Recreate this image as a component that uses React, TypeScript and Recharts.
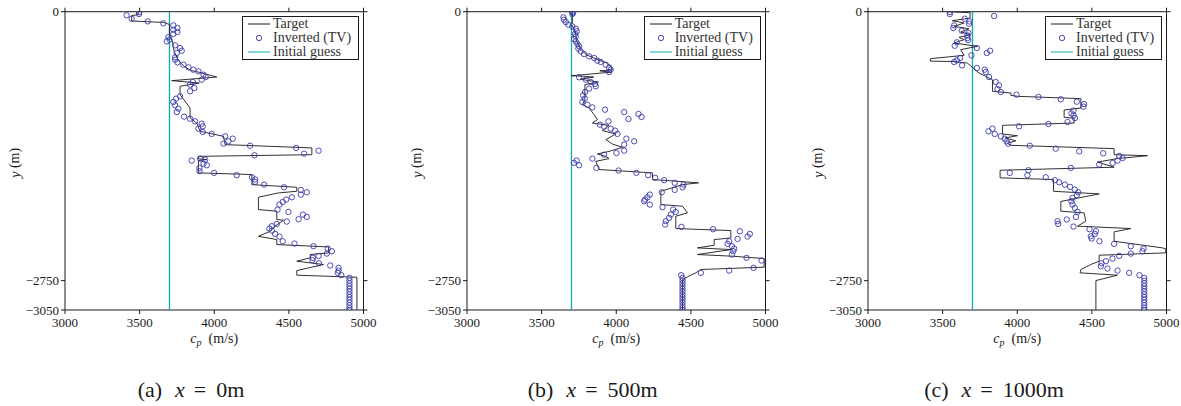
import { Legend, Scatter, ScatterChart, XAxis, YAxis } from "recharts";

const X_TICKS = [3000, 3500, 4000, 4500, 5000];
const Y_TICKS = [0, -2750, -3050];
const INITIAL_GUESS = 3700;
const SERIES_NAMES = ["Target", "Inverted (TV)", "Initial guess"];
const CAPTIONS = [
  ["(a)", "0m"],
  ["(b)", "500m"],
  ["(c)", "1000m"],
];

// [cp (m/s), y (m)]
const targetA = [
  [3490, 0], [3490, -30], [3447, -40], [3447, -95], [3660, -110], [3700, -130], [3700, -250],
  [3720, -300], [3730, -400], [3760, -500], [3800, -560], [3840, -600], [3900, -620], [4017, -668],
  [3715, -705], [3900, -729], [3771, -763], [3771, -848], [3838, -985], [3838, -1087], [3883, -1138],
  [3905, -1223], [4062, -1274], [4073, -1359], [4654, -1393], [4654, -1462], [3894, -1479],
  [3894, -1505], [3950, -1512], [3894, -1522], [3894, -1648], [4252, -1665], [4252, -1768],
  [4553, -1795], [4553, -1836], [4430, -1853], [4296, -1897], [4296, -2023], [4419, -2040],
  [4419, -2125], [4464, -2132], [4400, -2200], [4375, -2245], [4296, -2296], [4419, -2330],
  [4419, -2381], [4766, -2405], [4766, -2466], [4643, -2483], [4643, -2517], [4553, -2551],
  [4732, -2585], [4553, -2647], [4553, -2694], [4956, -2715], [4956, -3050],
];

const invertedA = [
  [3496, -5], [3496, -24], [3413, -37], [3447, -72], [3554, -99], [3659, -119], [3726, -140],
  [3753, -167], [3726, -184], [3753, -208], [3726, -228], [3693, -259], [3700, -286], [3682, -303],
  [3738, -344], [3771, -371], [3782, -399], [3749, -422], [3738, -467], [3738, -491], [3753, -518],
  [3793, -542], [3827, -569], [3860, -593], [3894, -610], [3928, -644], [3943, -668], [3916, -695],
  [3856, -719], [3838, -746], [3867, -780], [3838, -814], [3771, -865], [3744, -889], [3726, -923],
  [3738, -957], [3760, -991], [3749, -1026], [3798, -1073], [3838, -1094], [3872, -1121],
  [3916, -1145], [3923, -1172], [3894, -1196], [3923, -1230], [3983, -1250], [4073, -1274],
  [4124, -1298], [4095, -1325], [4062, -1349], [4240, -1370], [4549, -1393], [4699, -1421],
  [4602, -1451], [4270, -1468], [3905, -1502], [3939, -1513], [3849, -1522], [3928, -1556],
  [3950, -1570], [3901, -1597], [3901, -1631], [3999, -1648], [4151, -1672], [4252, -1693],
  [4274, -1716], [4274, -1740], [4334, -1768], [4468, -1795], [4580, -1822], [4620, -1846],
  [4580, -1870], [4520, -1897], [4482, -1921], [4459, -1945], [4437, -1972], [4424, -2023],
  [4497, -2047], [4594, -2074], [4620, -2098], [4565, -2122], [4486, -2146], [4419, -2170],
  [4386, -2193], [4370, -2217], [4386, -2238], [4408, -2272], [4437, -2299], [4459, -2347],
  [4538, -2371], [4665, -2398], [4761, -2422], [4788, -2449], [4754, -2473], [4699, -2497],
  [4661, -2517], [4658, -2541], [4701, -2572], [4777, -2595], [4833, -2619], [4833, -2647],
  [4828, -2670], [4851, -2694],
];

const targetB = [
  [3706, 0], [3706, -110], [3700, -130], [3725, -200], [3735, -300], [3760, -380], [3800, -440],
  [3860, -480], [3930, -520], [3965, -565], [3975, -595], [3890, -605], [3965, -618], [3700, -655],
  [3780, -660], [3850, -668], [3760, -690], [3880, -720], [3790, -745], [3790, -900], [3773, -951],
  [3818, -985], [3852, -1053], [3874, -1104], [3840, -1138], [3952, -1162], [3907, -1216],
  [3997, -1250], [3930, -1308], [3974, -1353], [4042, -1387], [3952, -1428], [3874, -1455],
  [3930, -1479], [3952, -1502], [3863, -1530], [3885, -1614], [4243, -1648], [4243, -1716],
  [4399, -1733], [4551, -1750], [4444, -1768], [4299, -1836], [4299, -1972], [4444, -1989],
  [4477, -2057], [4399, -2091], [4399, -2217], [4768, -2238], [4768, -2313], [4656, -2330],
  [4656, -2388], [4544, -2415], [4768, -2432], [4544, -2483], [4779, -2500], [4991, -2524],
  [4991, -2612], [4567, -2636], [4533, -2670], [4500, -2694], [4466, -2721], [4444, -2738],
  [4444, -3050],
];

const invertedB = [
  [3706, -3], [3711, -10], [3706, -24], [3646, -58], [3650, -82], [3662, -106], [3679, -133],
  [3706, -150], [3729, -174], [3735, -201], [3724, -228], [3729, -252], [3717, -279], [3729, -303],
  [3740, -330], [3751, -354], [3746, -378], [3762, -405], [3784, -433], [3818, -457], [3852, -474],
  [3874, -501], [3896, -514], [3930, -542], [3952, -569], [3963, -593], [3952, -617], [3751, -671],
  [3796, -695], [3829, -719], [3858, -739], [3863, -763], [3818, -787], [3791, -821], [3778, -855],
  [3789, -889], [3773, -923], [3807, -951], [3840, -978], [3925, -1002], [4053, -1026],
  [4149, -1046], [4169, -1077], [4082, -1097], [3948, -1121], [3890, -1155], [3919, -1175],
  [3963, -1196], [3992, -1216], [4008, -1250], [4068, -1298], [4120, -1325], [4053, -1359],
  [4053, -1421], [4001, -1445], [3919, -1462], [3840, -1502], [3735, -1522], [3717, -1546],
  [3751, -1570], [3867, -1597], [4015, -1624], [4135, -1648], [4214, -1672], [4261, -1699],
  [4321, -1723], [4392, -1750], [4451, -1768], [4444, -1795], [4392, -1822], [4305, -1846],
  [4225, -1870], [4209, -1897], [4193, -1921], [4187, -1938], [4225, -1972], [4310, -1999],
  [4381, -2023], [4399, -2047], [4366, -2074], [4354, -2108], [4332, -2142], [4328, -2176],
  [4437, -2200], [4649, -2224], [4828, -2245], [4895, -2272], [4880, -2299], [4813, -2323],
  [4757, -2347], [4746, -2374], [4775, -2398], [4790, -2422], [4784, -2449], [4775, -2483],
  [4873, -2517], [4974, -2544], [4920, -2619], [4757, -2647], [4567, -2670], [4435, -2694],
];

const targetC = [
  [3532, 0], [3684, -10], [3684, -65], [3565, -92], [3644, -116], [3577, -150], [3677, -174],
  [3621, -208], [3688, -235], [3610, -262], [3644, -286], [3577, -320], [3733, -354], [3621, -388],
  [3644, -446], [3420, -480], [3416, -505], [3577, -510], [3666, -525], [3700, -569], [3744, -627],
  [3789, -661], [3834, -695], [3834, -814], [3957, -831], [3957, -855], [4001, -865], [4426, -889],
  [4426, -985], [4314, -1005], [4314, -1080], [4381, -1090], [4381, -1138], [3901, -1162],
  [3901, -1250], [4001, -1268], [3920, -1290], [3990, -1320], [3935, -1345], [3957, -1366],
  [4649, -1400], [4649, -1462], [4873, -1472], [4672, -1502], [4538, -1537], [4649, -1590],
  [3885, -1621], [3885, -1699], [4243, -1716], [4243, -1836], [4549, -1863], [4292, -1940],
  [4292, -2040], [4448, -2057], [4459, -2142], [4404, -2193], [4761, -2217], [4649, -2251],
  [4649, -2347], [4974, -2415], [4995, -2425], [4995, -2466], [4549, -2490], [4549, -2551],
  [4493, -2585], [4426, -2636], [4421, -2670], [4672, -2694], [4527, -2749], [4527, -3050],
];

const invertedC = [
  [3548, -3], [3548, -24], [3845, -44], [3648, -72], [3679, -99], [3677, -123], [3577, -140],
  [3572, -167], [3628, -194], [3673, -218], [3666, -242], [3666, -269], [3671, -290], [3595, -313],
  [3581, -348], [3729, -371], [3818, -399], [3796, -422], [3693, -446], [3617, -474], [3595, -497],
  [3577, -514], [3630, -549], [3729, -576], [3782, -593], [3789, -617], [3811, -668], [3856, -719],
  [3878, -753], [3867, -790], [3890, -821], [3995, -848], [4142, -872], [4292, -896], [4399, -920],
  [4448, -944], [4444, -971], [4377, -1012], [4363, -1039], [4377, -1060], [4386, -1087],
  [4337, -1128], [4209, -1148], [4012, -1172], [3834, -1196], [3807, -1223], [3849, -1250],
  [3890, -1274], [3916, -1298], [3928, -1325], [3939, -1349], [4084, -1370], [4258, -1400],
  [4415, -1428], [4576, -1448], [4683, -1475], [4706, -1496], [4672, -1523], [4639, -1547],
  [4549, -1563], [4359, -1597], [4075, -1621], [3950, -1648], [4068, -1672], [4191, -1693],
  [4252, -1723], [4281, -1744], [4319, -1768], [4354, -1791], [4386, -1819], [4408, -1846],
  [4399, -1877], [4370, -1904], [4363, -1938], [4370, -1972], [4386, -2006], [4404, -2047],
  [4393, -2098], [4332, -2125], [4270, -2142], [4274, -2170], [4377, -2197], [4484, -2224],
  [4527, -2245], [4520, -2272], [4493, -2296], [4498, -2319], [4551, -2347], [4649, -2374],
  [4761, -2398], [4846, -2422], [4839, -2449], [4761, -2473], [4683, -2497], [4638, -2524],
  [4594, -2551], [4565, -2572], [4560, -2602], [4605, -2626], [4672, -2647], [4750, -2670],
  [4819, -2694],
];

// the stacked circles at the bottom of each panel
const COLUMN_DEPTHS = [
  -2722, -2750, -2778, -2806, -2834, -2862, -2890, -2918, -2946, -2974, -3002, -3030, -3050,
];
const COLUMN_VELOCITY = [4906, 4444, 4851];

const PANEL_LEFT = [0, 401.7, 803];
const TARGETS = [targetA, targetB, targetC];
const INVERTED = [invertedA, invertedB, invertedC];

const FONT = "Liberation Serif, DejaVu Serif, serif";
const BLUE = "#3a3aae";
const CYAN = "#0eadad";
const INK = "#1a1a1a";

const toPoints = (rows: number[][]) => rows.map(([v, d]) => ({ v, d }));
const fmtY = (v: number) => (v < 0 ? `\u2212${Math.abs(v)}` : String(v));
const blank = () => "";

const NoDot = () => <g />;
const Ring = (props: any) => (
  <circle cx={props.cx} cy={props.cy} r={2.7} fill="none" stroke={BLUE} strokeWidth={0.9} />
);

// plain svg tick so the serif face and size are sure to stick
const XTick = (props: any) => {
  const { x, y, payload } = props;
  return (
    <text x={x} y={y + 9} textAnchor="middle" fontFamily={FONT} fontSize={13} fill={INK}>
      {payload.value}
    </text>
  );
};

const YTick = (props: any) => {
  const { x, y, payload } = props;
  return (
    <text x={x} y={y + 4.5} textAnchor="end" fontFamily={FONT} fontSize={13} fill={INK}>
      {fmtY(payload.value)}
    </text>
  );
};

const YLabel = (props: any) => {
  const { x, y, height } = props.viewBox;
  const cx = x + 5;
  const cy = y + height / 2 + 2;
  return (
    <text
      x={cx}
      y={cy}
      transform={`rotate(-90, ${cx}, ${cy})`}
      textAnchor="middle"
      dominantBaseline="central"
      fontFamily={FONT}
      fontSize={14}
      fill={INK}
    >
      <tspan fontStyle="italic">y</tspan> (m)
    </text>
  );
};

const XLabel = (props: any) => {
  const { x, y, width } = props.viewBox;
  return (
    <text x={x + width / 2} y={y + 32.5} textAnchor="middle" fontFamily={FONT} fontSize={14} fill={INK}>
      <tspan fontStyle="italic">c</tspan>
      <tspan fontStyle="italic" fontSize={10} dy={3}>p</tspan>
      <tspan dy={-3}>{"\u2002(m/s)"}</tspan>
    </text>
  );
};

const LegendBox = (props: any) => {
  const items = [...(props.payload || [])].sort(
    (a: any, b: any) => SERIES_NAMES.indexOf(a.value) - SERIES_NAMES.indexOf(b.value)
  );
  return (
    <div
      style={{
        border: `1px solid ${INK}`,
        background: "#fff",
        boxSizing: "border-box",
        width: 117,
        height: 44,
        fontFamily: FONT,
        fontSize: 14,
        color: "#333",
      }}
    >
      {items.map((item: any) => (
        <div key={item.value} style={{ display: "flex", alignItems: "center", height: 14.3, lineHeight: "14.3px" }}>
          <svg width={30} height={14} style={{ flex: "none" }}>
            {item.type === "line" ? (
              <line x1={5} x2={27} y1={7} y2={7} stroke={item.color} strokeWidth={1} />
            ) : (
              <circle cx={16} cy={7} r={2.7} fill="none" stroke={BLUE} strokeWidth={0.9} />
            )}
          </svg>
          <span style={{ whiteSpace: "nowrap" }}>{item.value}</span>
        </div>
      ))}
    </div>
  );
};

function Panel({ index }: { index: number }) {
  const target = toPoints(TARGETS[index]);
  const inverted = toPoints([
    ...INVERTED[index],
    ...COLUMN_DEPTHS.map((d) => [COLUMN_VELOCITY[index], d]),
  ]);
  const guess = toPoints([
    [INITIAL_GUESS, 0],
    [INITIAL_GUESS, -3050],
  ]);
  const [tag, pos] = CAPTIONS[index];

  return (
    <div style={{ position: "absolute", left: PANEL_LEFT[index], top: 0, width: 400, height: 406 }}>
      <ScatterChart width={400} height={406} margin={{ top: 10.7, right: 35.5, bottom: 56, left: 10 }}>
        <XAxis
          xAxisId="b"
          type="number"
          dataKey="v"
          domain={[3000, 5000]}
          ticks={X_TICKS}
          allowDataOverflow
          height={40}
          tickSize={4}
          tickMargin={4}
          stroke={INK}
          tick={XTick}
          label={XLabel}
        />
        <XAxis
          xAxisId="t"
          orientation="top"
          type="number"
          dataKey="v"
          domain={[3000, 5000]}
          ticks={X_TICKS}
          allowDataOverflow
          height={1}
          tickSize={4}
          tickFormatter={blank}
          stroke={INK}
        />
        <YAxis
          yAxisId="l"
          type="number"
          dataKey="d"
          domain={[-3050, 0]}
          ticks={Y_TICKS}
          allowDataOverflow
          width={55}
          tickSize={4}
          tickMargin={2}
          stroke={INK}
          tick={YTick}
          label={YLabel}
        />
        <YAxis
          yAxisId="r"
          orientation="right"
          type="number"
          dataKey="d"
          domain={[-3050, 0]}
          ticks={Y_TICKS}
          allowDataOverflow
          width={1}
          tickSize={4}
          tickFormatter={blank}
          stroke={INK}
        />
        <Legend
          content={LegendBox}
          layout="horizontal"
          verticalAlign="middle"
          wrapperStyle={{ top: 15.7, left: 242, width: 117 }}
        />
        <Scatter
          name="Initial guess"
          xAxisId="t"
          yAxisId="r"
          data={guess}
          fill={CYAN}
          line={{ stroke: CYAN, strokeWidth: 1.3 }}
          shape={NoDot}
          legendType="line"
          isAnimationActive={false}
        />
        <Scatter
          name="Target"
          xAxisId="b"
          yAxisId="l"
          data={target}
          fill={INK}
          line={{ stroke: INK, strokeWidth: 0.9 }}
          shape={NoDot}
          legendType="line"
          isAnimationActive={false}
        />
        <Scatter
          name="Inverted (TV)"
          xAxisId="b"
          yAxisId="l"
          data={inverted}
          fill={BLUE}
          shape={Ring}
          legendType="circle"
          isAnimationActive={false}
        />
      </ScatterChart>
      <div
        style={{
          position: "absolute",
          top: 378,
          left: 0,
          width: 382,
          textAlign: "center",
          fontFamily: FONT,
          fontSize: 22,
          lineHeight: "24px",
          color: INK,
          whiteSpace: "nowrap",
        }}
      >
        <span>{tag}</span>
        <i style={{ marginLeft: 13 }}>x</i>
        <span style={{ marginLeft: 9 }}>=</span>
        <span style={{ marginLeft: 10 }}>{pos}</span>
      </div>
    </div>
  );
}

export default function App() {
  return (
    <div
      style={{
        position: "absolute",
        left: 0,
        top: 0,
        width: 1181,
        height: 406,
        background: "#fff",
        fontFamily: FONT,
      }}
    >
      {[0, 1, 2].map((i) => (
        <Panel key={i} index={i} />
      ))}
    </div>
  );
}
